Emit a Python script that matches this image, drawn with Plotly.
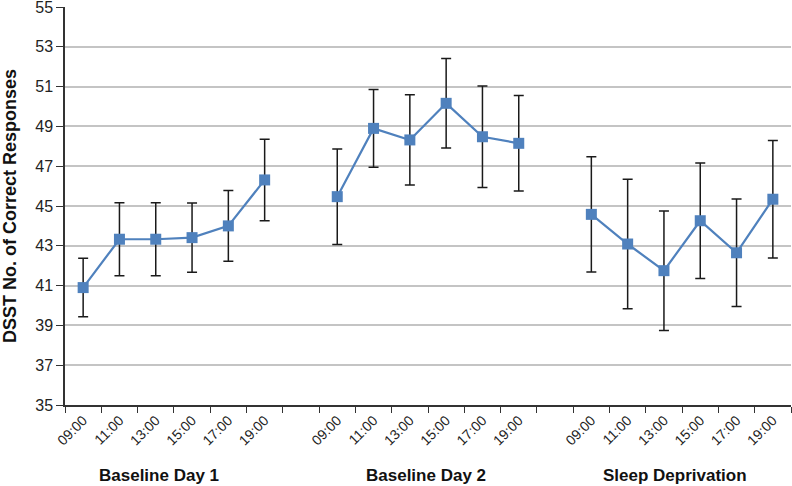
import plotly.graph_objects as go

groups = ["Baseline Day 1", "Baseline Day 2", "Sleep Deprivation"]
times = ["09:00", "11:00", "13:00", "15:00", "17:00", "19:00"]

means = [
    [40.9, 43.33, 43.33, 43.41, 44.0, 46.31],
    [45.47, 48.9, 48.32, 50.16, 48.48, 48.15],
    [44.58, 43.09, 41.75, 44.26, 42.65, 45.34],
]
errors = [
    [1.47, 1.83, 1.83, 1.74, 1.78, 2.05],
    [2.4, 1.95, 2.27, 2.25, 2.55, 2.4],
    [2.9, 3.25, 3.0, 2.9, 2.7, 2.95],
]

BLUE = "#4F81BD"
FONT = "Liberation Sans Narrow, Arial Narrow, Liberation Sans, Arial, sans-serif"
BOLD = "Liberation Sans, Arial, sans-serif"

fig = go.Figure()
tickvals, ticktext = [], []
step = len(times) + 1
for g, name in enumerate(groups):
    xs = [g * step + i for i in range(len(times))]
    tickvals += xs
    ticktext += times
    fig.add_trace(go.Scatter(
        x=xs, y=means[g], mode="lines+markers", name=name, showlegend=False,
        line=dict(color=BLUE, width=2.2),
        marker=dict(symbol="square", size=11, color=BLUE),
        error_y=dict(type="data", array=errors[g], visible=True,
                     color="#1a1a1a", thickness=1.5, width=5),
        cliponaxis=False,
    ))
    fig.add_annotation(
        x=g * step + (len(times) - 1) / 2 + [-0.4, -0.05, -0.2][g], y=-0.176,
        xref="x", yref="paper", text="<b>%s</b>" % name, showarrow=False,
        font=dict(size=17, color="#111111", family=BOLD),
        yanchor="middle", xanchor="center",
    )

n_total = len(groups) * step - 1
fig.update_xaxes(
    range=[-0.5, n_total - 0.5], tickmode="array", tickvals=tickvals,
    ticktext=ticktext, tickangle=-45, ticks="", showgrid=False,
    showline=True, linecolor="#333333", linewidth=1.5,
    tickfont=dict(size=14, color="#222222", family=FONT),
    minor=dict(tickmode="linear", tick0=-0.5, dtick=1, ticks="outside",
               ticklen=6, tickcolor="#333333", tickwidth=1.2, showgrid=False),
    zeroline=False, automargin=False, ticklabeloverflow="allow",
)
fig.update_yaxes(
    range=[35, 55], tickmode="linear", tick0=35, dtick=2,
    showgrid=True, gridcolor="#c4c4c4", gridwidth=1.5,
    showline=True, linecolor="#333333", linewidth=1.5,
    ticks="outside", ticklen=7, tickcolor="#333333",
    tickfont=dict(size=16, color="#222222", family=FONT),
    title=dict(text="<b>DSST No. of Correct Responses</b>",
               font=dict(size=18, color="#111111", family=BOLD),
               standoff=14),
    zeroline=False, automargin=False, ticklabeloverflow="allow",
)
fig.update_layout(
    width=792, height=486,
    margin=dict(l=65, r=1, t=7, b=81),
    plot_bgcolor="white", paper_bgcolor="white",
)
fig.write_html("out.html",
               config={"displayModeBar": False},
               post_script="document.body.style.margin='0px';"
                           "document.body.style.padding='0px';")
